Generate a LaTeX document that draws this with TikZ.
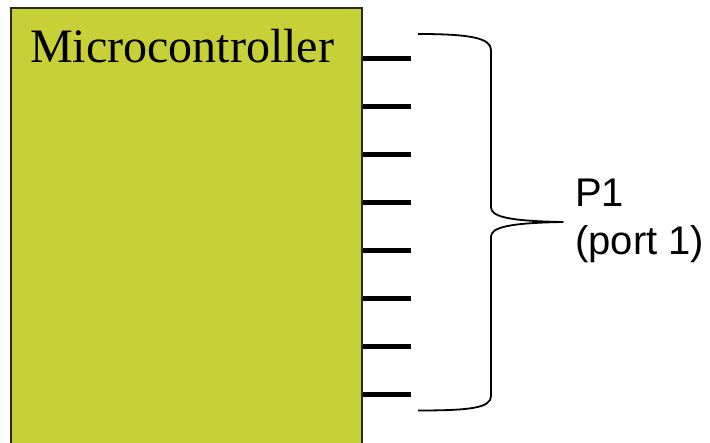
\documentclass[tikz,border=0pt]{standalone}
\usepackage{fontspec}
\setmainfont{Liberation Serif}
\newfontfamily\labelfont{Liberation Sans}
\definecolor{chipfill}{HTML}{C8D038}
\definecolor{chipedge}{HTML}{2A2A1A}
\tikzset{
  chip/.style={draw=chipedge, line width=1.5pt, fill=chipfill},
  pinline/.style={line width=5pt, black},
  bracestroke/.style={line width=1.8pt, black, line join=round},
  chiplabel/.style={inner sep=0pt, anchor=base west, font=\fontsize{48}{50}\selectfont},
  portlabel/.style={inner sep=0pt, anchor=base west, font=\labelfont\fontsize{40}{40}\selectfont},
}
\begin{document}
\begin{tikzpicture}[x=1pt, y=-1pt]
  \useasboundingbox (0,0) rectangle (710,443);
  % microcontroller body, running off the bottom edge
  \begin{scope}
    \clip (0,0) rectangle (710,443);
    \draw[chip] (11,8) rectangle (362,460);
  \end{scope}
  \node[chiplabel] (mcu) at (30,63) {Microcontroller};
  % eight port pins
  \foreach \i in {0,...,7} {
    \coordinate (pinA\i) at (362.8, 58.7+48*\i);
    \coordinate (pinB\i) at (410.5, 58.7+48*\i);
    \draw[pinline] (pinA\i) -- (pinB\i);
  }
  % curly brace grouping the pins
  \coordinate (btop) at (418,34);
  \coordinate (bbot) at (418,410.5);
  \coordinate (btip) at (563,222);
  \draw[bracestroke] (btop) .. controls (470,34) and (491,38) .. (491,50)
    -- (491,207) .. controls (491,216) and (505,221) .. (btip)
    .. controls (505,223) and (491,228) .. (491,237)
    -- (491,396) .. controls (491,408) and (470,410.5) .. (bbot);
  % port label
  \node[portlabel] (p1) at (575,206.5) {P1};
  \node[portlabel] (port) at (575,254.5) {(port 1)};
\end{tikzpicture}
\end{document}
